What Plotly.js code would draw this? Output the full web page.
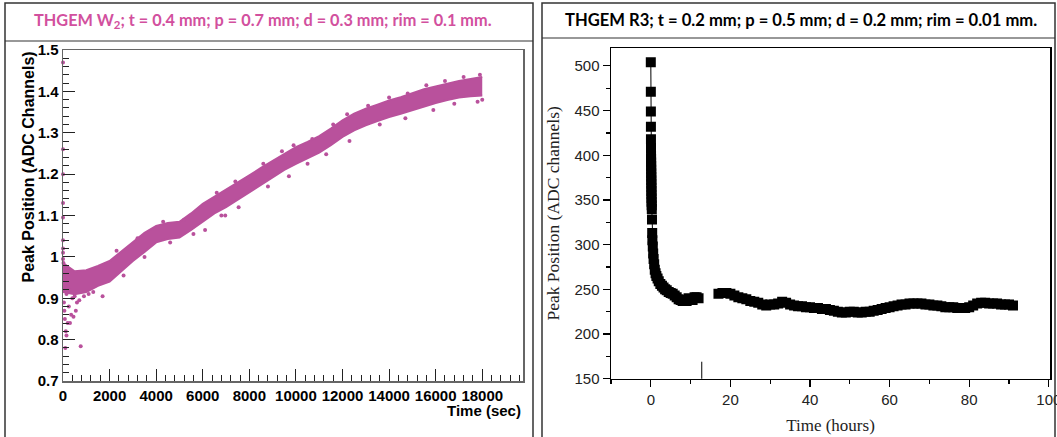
<!DOCTYPE html>
<html>
<head>
<meta charset="utf-8">
<script src="https://cdn.plot.ly/plotly-3.0.1.min.js"></script>
<style>html,body{margin:0;padding:0;background:#fff;}#chart{width:1057px;height:437px;}</style>
</head>
<body>
<div id="chart"></div>
<script>
// ---------- Left panel: THGEM W2 (time in seconds) ----------
const w2Time  = [0,500,1000,1500,2000,2500,3000,3500,4000,4500,5000,5500,6000,6500,7000,7500,8000,8500,9000,9500,10000,10500,11000,11500,12000,12500,13000,13500,14000,14500,15000,15500,16000,16500,17000,17500,18000];
const w2Upper = [0.985,0.965,0.968,0.978,0.99,1.012,1.035,1.058,1.075,1.082,1.085,1.105,1.128,1.145,1.162,1.178,1.197,1.215,1.232,1.25,1.265,1.278,1.292,1.31,1.33,1.346,1.358,1.368,1.378,1.386,1.396,1.405,1.412,1.419,1.425,1.43,1.435];
const w2Lower = [0.915,0.91,0.915,0.93,0.94,0.965,0.99,1.012,1.035,1.043,1.047,1.065,1.085,1.105,1.12,1.138,1.155,1.175,1.192,1.21,1.225,1.238,1.252,1.27,1.29,1.306,1.318,1.328,1.338,1.346,1.355,1.364,1.372,1.379,1.385,1.388,1.39];
const w2ScatterT = [0,0,0,0,0,0,0,0,0,20,40,60,80,120,150,100,200,300,350,450,250,400,500,600,700,760,550,900,1100,1300,150,300,
  2300,3200,4300,5200,6600,7400,8600,9400,9900,10700,11600,12200,13100,14000,14800,15600,16400,17200,17900,
  1700,2600,3500,4600,5600,6100,6800,6965,7540,8800,9700,10500,11300,12300,13600,14700,15900,16800,17800,18000];
const w2ScatterY = [1.47,1.26,1.2,1.13,1.095,1.04,1.02,1.01,0.995,0.985,0.89,0.87,0.85,0.82,0.81,0.78,0.84,0.84,0.86,0.855,0.88,0.9,0.905,0.89,0.895,0.784,0.87,0.905,0.91,0.915,0.91,0.92,
  1.015,1.045,1.085,1.09,1.155,1.182,1.225,1.255,1.27,1.285,1.32,1.345,1.365,1.385,1.395,1.415,1.425,1.435,1.44,
  0.905,0.955,1.0,1.035,1.055,1.065,1.1,1.1,1.12,1.17,1.195,1.225,1.248,1.28,1.32,1.335,1.355,1.37,1.375,1.38];

// ---------- Right panel: THGEM R3 (time in hours) ----------
const r3Time = [0.00,0.01,0.02,0.03,0.04,0.05,0.06,0.07,0.08,0.09,0.10,0.11,0.12,0.13,0.14,0.15,0.16,0.17,0.18,0.20,0.22,0.25,0.30,0.35,0.40,0.50,0.60,0.70,0.85,1.0,1.2,1.4,1.7,2.0,2.4,2.8,3.2,3.6,4.0,4.5,5.0,5.5,6.0,6.5,7.0,7.5,8.0,8.5,9.0,9.5,10.0,10.5,11.0,11.5,12.0,
  null,
  17,18,19,20,21,22,23,24,25,26,27,28,29,30,31,32,33,34,35,36,37,38,39,40,41,42,43,44,45,46,47,48,49,50,51,52,53,54,55,56,57,58,59,60,61,62,63,64,65,66,67,68,69,70,71,72,73,74,75,76,77,78,79,80,81,82,83,84,85,86,87,88,89,90,91];
const r3Peak = [504,471,449,432,418,408,400,396,392,388,384,380,376,372,368,364,360,356,352,348,344,340,328,313,305,298,290,284,278,272,268,265,262,259,256,254,252,250,249,247,246,245,243,241,239,238,237,238,237,240,239,238,241,241,240,
  null,
  245,246,246,245,243,241,240,239,237,236,235,233,232,233,233,234,236,235,233,232,231,231,230,230,229,229,228,228,227,226,225,224,224,225,225,224,224,225,225,226,227,228,229,230,231,232,233,233,234,234,234,234,233,233,232,232,231,230,230,230,229,229,229,230,232,234,235,235,234,234,234,233,233,233,232];
const r3DropTime = [12.8,12.8];
const r3DropPeak = [169,120];

const W = 1057, H = 437;
const px = x => x / W;
const py = y => 1 - y / H;

const pink = '#B9519C';
const traces = [
  {x: w2Time, y: w2Lower, xaxis:'x', yaxis:'y', mode:'lines', line:{color:pink, width:2}, hoverinfo:'skip', showlegend:false},
  {x: w2Time, y: w2Upper, xaxis:'x', yaxis:'y', mode:'lines', fill:'tonexty', fillcolor:pink, line:{color:pink, width:2}, hoverinfo:'skip', showlegend:false},
  {x: w2ScatterT, y: w2ScatterY, xaxis:'x', yaxis:'y', mode:'markers', marker:{color:pink, size:4}, cliponaxis:false, showlegend:false},
  {x: r3Time, y: r3Peak, xaxis:'x2', yaxis:'y2', mode:'lines+markers', connectgaps:false,
   line:{color:'#000', width:1}, marker:{symbol:'square', size:10, color:'#000'}, showlegend:false},
  {x: r3DropTime, y: r3DropPeak, xaxis:'x2', yaxis:'y2', mode:'lines', line:{color:'#000', width:1}, showlegend:false}
];

const rootFont = {family:'Liberation Sans, Arial, sans-serif', size:15, color:'#000', weight:'bold'};
const armFont = {family:'Liberation Sans, Arial, sans-serif', size:15, color:'#222'};
const serifFont = {family:'Liberation Serif, Times New Roman, serif', size:17, color:'#222'};

const layout = {
  width: W, height: H,
  margin: {l:0, r:0, t:0, b:0},
  paper_bgcolor:'#fff', plot_bgcolor:'#fff',
  showlegend:false,
  xaxis: {domain:[px(63), px(523)], range:[0, 19750], anchor:'y', tick0:0, dtick:2000, tickformat:'d',
    ticks:'inside', ticklen:12, tickwidth:1, tickcolor:'#222',
    minor:{dtick:400, ticks:'inside', ticklen:6, tickcolor:'#222'},
    showline:true, linecolor:'#666', linewidth:1.5, mirror:true,
    showgrid:false, zeroline:false, tickfont:rootFont},
  yaxis: {domain:[py(381), py(50)], range:[0.7, 1.5], anchor:'x', tick0:0.7, dtick:0.1,
    ticks:'inside', ticklen:12, tickwidth:1, tickcolor:'#222',
    minor:{dtick:0.02, ticks:'inside', ticklen:6, tickcolor:'#222'},
    showline:true, linecolor:'#666', linewidth:1.5, mirror:true,
    showgrid:false, zeroline:false, tickfont:rootFont},
  xaxis2: {domain:[px(611), px(1050)], range:[-10, 100.3], anchor:'y2', tick0:0, dtick:20,
    ticks:'outside', ticklen:7, tickwidth:1.2, tickcolor:'#000', ticklabeloverflow:'allow',
    minor:{dtick:10, ticks:'outside', ticklen:4, tickcolor:'#000'},
    showline:true, linecolor:'#000', linewidth:1.5, mirror:true,
    showgrid:false, zeroline:false, tickfont:armFont,
    title:{text:'Time (hours)', font:serifFont, standoff:12}},
  yaxis2: {domain:[py(378.7), py(48)], range:[150, 520], anchor:'x2', tick0:150, dtick:50,
    ticks:'outside', ticklen:7, tickwidth:1.2, tickcolor:'#000',
    minor:{dtick:25, ticks:'outside', ticklen:4, tickcolor:'#000'},
    showline:true, linecolor:'#000', linewidth:1.5, mirror:true,
    showgrid:false, zeroline:false, tickfont:armFont,
    title:{text:'Peak Position (ADC channels)', font:{family:'Liberation Serif, Times New Roman, serif', size:17.5, color:'#222'}, standoff:10}},
  shapes: [
    {type:'rect', xref:'paper', yref:'paper', x0:px(5), x1:px(533), y0:py(445), y1:py(3), line:{color:'#333', width:1.5}},
    {type:'line', xref:'paper', yref:'paper', x0:px(5), x1:px(533), y0:py(41), y1:py(41), line:{color:'#333', width:1.2}},
    {type:'rect', xref:'paper', yref:'paper', x0:px(542), x1:px(1055), y0:py(445), y1:py(3), line:{color:'#333', width:1.5}},
    {type:'line', xref:'paper', yref:'paper', x0:px(542), x1:px(1055), y0:py(38), y1:py(38), line:{color:'#333', width:1.2}}
  ],
  annotations: [
    {text:'THGEM W<sub>2</sub>; t = 0.4 mm; p = 0.7 mm; d = 0.3 mm; rim = 0.1 mm.', xref:'paper', yref:'paper',
     x:px(263), y:py(21), xanchor:'center', yanchor:'middle', showarrow:false,
     font:{family:'Lato, Open Sans, sans-serif', size:16.3, color:'#D2509E', weight:'bold'}},
    {text:'THGEM R3; t = 0.2 mm; p = 0.5 mm; d = 0.2 mm; rim = 0.01 mm.', xref:'paper', yref:'paper',
     x:px(801), y:py(20), xanchor:'center', yanchor:'middle', showarrow:false,
     font:{family:'Lato, Open Sans, sans-serif', size:16.6, color:'#000', weight:'bold'}},
    {text:'Peak Position (ADC Channels)', xref:'paper', yref:'paper', x:px(28), y:py(50),
     xanchor:'center', yanchor:'top', textangle:-90, showarrow:false,
     font:{family:'Liberation Sans, Arial, sans-serif', size:16, color:'#000', weight:'bold'}},
    {text:'Time (sec)', xref:'paper', yref:'paper', x:px(523), y:py(410),
     xanchor:'right', yanchor:'middle', showarrow:false, font:rootFont}
  ]
};

Plotly.newPlot('chart', traces, layout, {staticPlot:true, displayModeBar:false});
</script>
</body>
</html>
